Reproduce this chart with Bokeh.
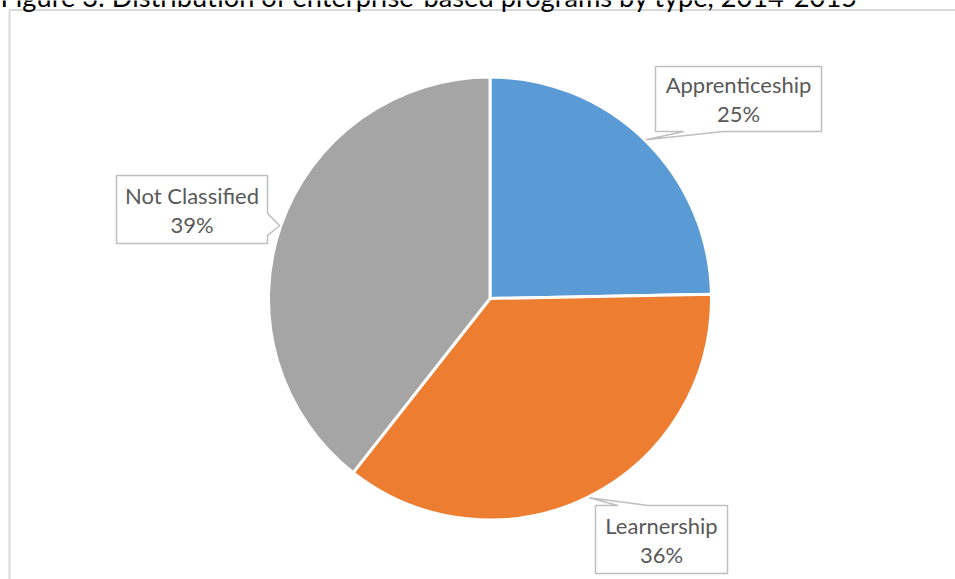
import math
from bokeh.plotting import figure
from bokeh.models import Range1d, ColumnDataSource
from bokeh.core.properties import value
from bokeh.embed import file_html
from bokeh.resources import INLINE

# ---- data ----
title_text = "Figure 3: Distribution of enterprise-based programs by type, 2014-2015"
categories = ["Apprenticeship", "Learnership", "Not Classified"]
shares = [24.7, 35.9, 39.4]
colors = ["#5B9BD5", "#ED7D31", "#A5A5A5"]

# ---- layout (page pixels, y downward) ----
W, H = 955, 579
CX, CY, R = 489.5, 298.0, 221.5
# label boxes: (left, top, width, height, pointer side, base fraction a, base fraction b)
label_boxes = {
    "Apprenticeship": (655, 66, 166, 65, "bottom", 0.17, 0.41),
    "Learnership": (595, 505, 132, 68, "top", 0.17, 0.40),
    "Not Classified": (116, 175, 151, 68, "right", 0.56, 0.88),
}

def fy(y):
    return H - y

p = figure(width=W, height=H, output_backend="svg", toolbar_location=None,
           x_range=Range1d(0, W), y_range=Range1d(0, H), min_border=0,
           outline_line_color=None)
p.margin = (0, 0, 0, 0)
p.xaxis.visible = False
p.yaxis.visible = False
p.grid.visible = False
p.background_fill_color = "white"
p.border_fill_color = "white"

# chart area border (continues beyond the right and bottom edges)
p.line([9, 9, W + 40], [fy(H + 40), fy(9.5), fy(9.5)],
       line_color="#D9D9D9", line_width=2)

# title (top clipped as in the reference)
p.text(x=[0], y=[fy(-4)], text=[title_text], text_font=value("Lato"),
       text_font_size="27.2px", text_color="black", text_align="left",
       text_baseline="alphabetic")

# pie
total = sum(shares)
starts, ends, mids = [], [], []
cum = 0.0
for s in shares:
    a0 = math.pi / 2 - 2 * math.pi * cum / total
    cum += s
    a1 = math.pi / 2 - 2 * math.pi * cum / total
    starts.append(a0)
    ends.append(a1)
    mids.append((a0 + a1) / 2)

src = ColumnDataSource(dict(cat=categories, share=shares, color=colors,
                            start=starts, end=ends))
p.wedge(x=CX, y=fy(CY), radius=R, start_angle="start", end_angle="end",
        direction="clock", fill_color="color", line_color="white",
        line_width=3, source=src)

# callout labels
xs, ys = [], []
tx, ty, tt = [], [], []
for cat, s, m in zip(categories, shares, mids):
    left, top, w, h, side, fa, fb = label_boxes[cat]
    right, bottom = left + w, top + h
    tipx = CX + (R + 1) * math.cos(m)
    tipy = CY - (R + 1) * math.sin(m)
    if side == "bottom":
        pts = [(left, top), (right, top), (right, bottom),
               (left + fb * w, bottom), (tipx, tipy), (left + fa * w, bottom),
               (left, bottom)]
    elif side == "top":
        pts = [(left, top), (left + fa * w, top), (tipx, tipy),
               (left + fb * w, top), (right, top), (right, bottom),
               (left, bottom)]
    else:
        pts = [(left, top), (right, top), (right, top + fa * h), (tipx, tipy),
               (right, top + fb * h), (right, bottom), (left, bottom)]
    xs.append([q[0] for q in pts])
    ys.append([fy(q[1]) for q in pts])
    cxl = left + w / 2
    cyl = top + h / 2
    tx += [cxl, cxl]
    ty += [fy(cyl - 14.5), fy(cyl + 14.5)]
    tt += [cat, f"{round(s)}%"]

p.patches(xs, ys, fill_color="white", line_color="#BFBFBF", line_width=1.5)
p.text(x=tx, y=ty, text=tt, text_font=value("Lato"), text_font_size="22px",
       text_color="#595959", text_align="center", text_baseline="middle")

open("out.html", "w").write(file_html(p, INLINE))
